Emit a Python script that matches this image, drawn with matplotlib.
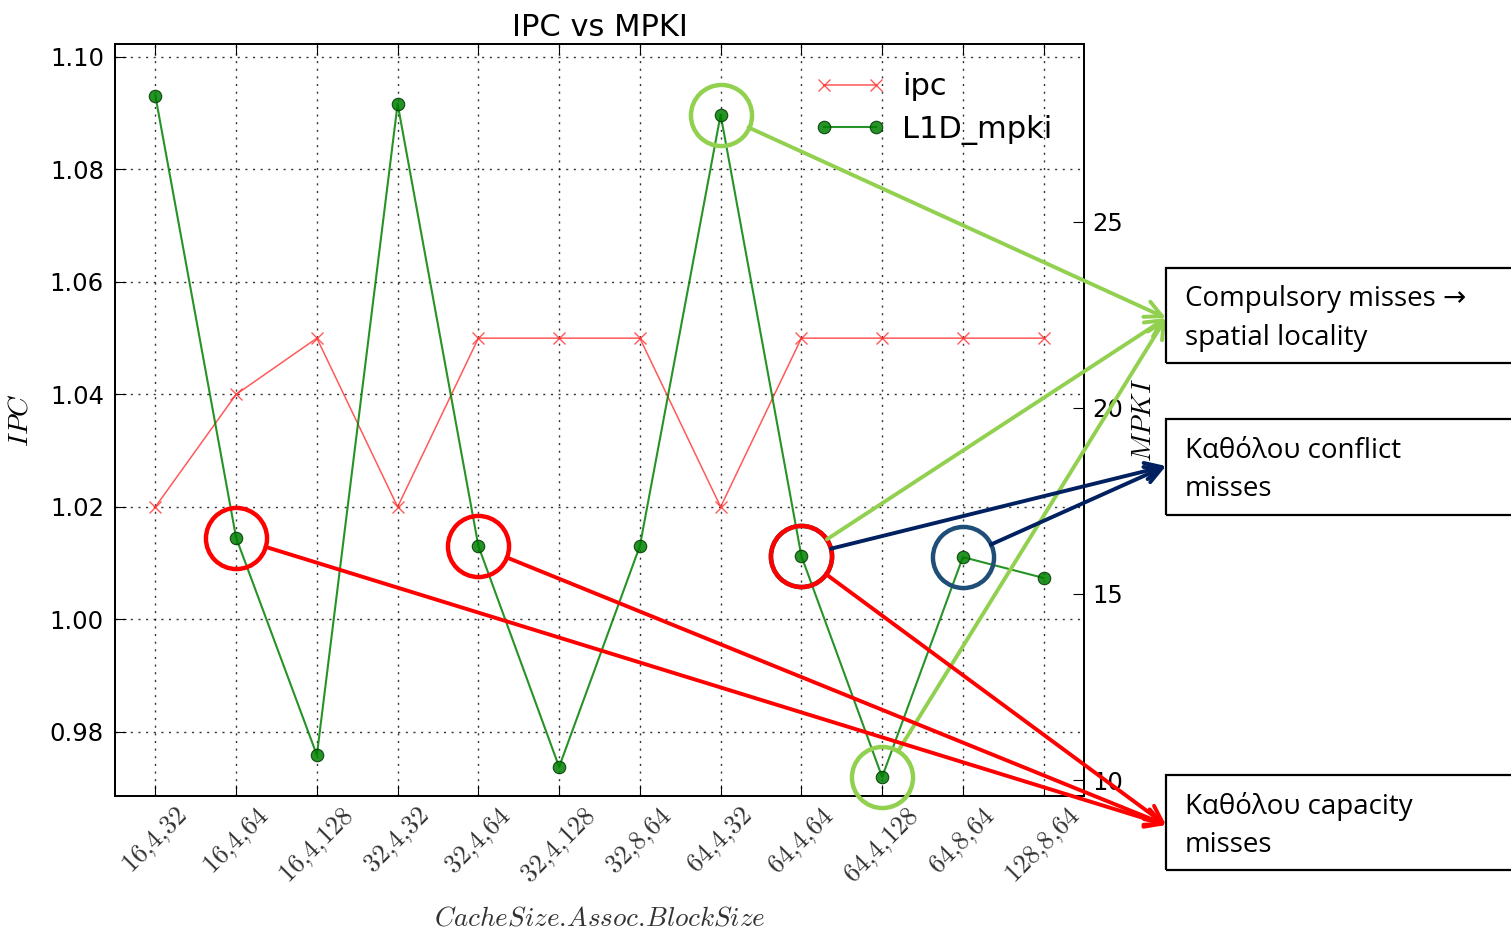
import matplotlib
matplotlib.use("Agg")
import matplotlib.pyplot as plt
from matplotlib.patches import Rectangle

plt.rcParams['mathtext.fontset'] = 'cm'
plt.rcParams['font.family'] = ['DejaVu Sans']

# ---- data ----
configs = ["16,4,32", "16,4,64", "16,4,128", "32,4,32", "32,4,64", "32,4,128",
           "32,8,64", "64,4,32", "64,4,64", "64,4,128", "64,8,64", "128,8,64"]
ipc = [1.02, 1.04, 1.05, 1.02, 1.05, 1.05, 1.05, 1.02, 1.05, 1.05, 1.05, 1.05]
l1d_mpki = [28.39, 16.51, 10.67, 28.17, 16.29, 10.35, 16.29, 27.88, 16.02, 10.08, 15.99, 15.43]

ipc_ticks = [0.98, 1.00, 1.02, 1.04, 1.06, 1.08, 1.10]
mpki_ticks = [10, 15, 20, 25]

# highlighted points by miss category
compulsory_pts = [7, 8, 9]
conflict_pts = [8, 10]
capacity_pts = [1, 4, 8]

note_compulsory = "Compulsory misses \u2192\nspatial locality"
note_conflict = "Καθόλου conflict\nmisses"
note_capacity = "Καθόλου capacity\nmisses"

C_GREEN = "#92d050"
C_NAVY = "#002060"
C_BLUE = "#1f4e79"
C_RED = "#ff0000"

W, H = 1511, 932
fig = plt.figure(figsize=(W / 100, H / 100), dpi=100)
fig.patch.set_facecolor("white")


def fp(x, y):
    """pixel position (from top-left) -> figure fraction"""
    return (x / W, 1 - y / H)


ax1 = fig.add_axes([115 / W, 1 - 796 / H, (1084 - 115) / W, (796 - 44) / H])
ax2 = ax1.twinx()

x = list(range(len(configs)))
l_ipc, = ax1.plot(x, ipc, color="#ff3030", marker="x", markersize=8, lw=1.1,
                  mew=1.0, alpha=0.8, label="ipc")
l_mpki, = ax2.plot(x, l1d_mpki, color="#008000", marker="o", markersize=9,
                   lw=1.5, mec="#003300", mew=0.8, alpha=0.85, label="L1D_mpki",
                   zorder=3)

ax1.set_xlim(-0.5, 11.5)
ax1.set_ylim(0.9686, 1.1023)
ax2.set_ylim(9.57, 29.78)

ax1.set_yticks(ipc_ticks)
ax1.set_yticklabels([f"{v:.2f}" for v in ipc_ticks], fontsize=17.5)
ax2.set_yticks(mpki_ticks)
ax2.set_yticklabels([str(v) for v in mpki_ticks], fontsize=17.5)
ax1.set_xticks(x)
ax1.set_xticklabels(["$" + c.replace(",", "{,}") + "$" for c in configs],
                    rotation=45, ha="center", va="top", fontsize=19, color="#333333")

ax1.tick_params(axis="both", direction="in", length=8, top=True, right=False, pad=8)
ax2.tick_params(axis="y", direction="in", length=8, pad=6)
ax1.tick_params(axis="x", pad=5)

ax1.grid(True, linestyle=(0, (1.5, 4)), color="black", lw=1.0, alpha=0.8)
for ax in (ax1, ax2):
    for s in ax.spines.values():
        s.set_linewidth(1.3)

ax1.set_title("IPC vs MPKI", fontsize=22, pad=6)
ax1.set_xlabel(r"$CacheSize.\!Assoc.\!BlockSize$", fontsize=19.5, color="#333333",
               labelpad=12)
ax1.set_ylabel(r"$IPC$", fontsize=20, labelpad=12)
ax2.set_ylabel(r"$MPKI$", fontsize=20, labelpad=4)

leg = ax2.legend([l_ipc, l_mpki], ["ipc", "L1D_mpki"], loc="upper left",
                 bbox_to_anchor=(0.694, 0.999), frameon=False, numpoints=2,
                 fontsize=22, handlelength=2.3, handletextpad=0.55,
                 labelspacing=0.45)

# ---- annotation boxes ----
boxes = [
    (268, 363, note_compulsory),
    (419, 515, note_conflict),
    (775, 870, note_capacity),
]
for top, bot, txt in boxes:
    x0, y0 = fp(1166, bot)
    x1, y1 = fp(1530, top)
    fig.patches.append(Rectangle((x0, y0), x1 - x0, y1 - y0, transform=fig.transFigure,
                                 fill=False, edgecolor="black", lw=1.6))
    tx, ty = fp(1185, (top + bot) / 2 + 3)
    fig.text(tx, ty, txt, ha="left", va="center", fontsize=20,
             family=["Open Sans", "DejaVu Sans"], linespacing=1.5)

# ---- circles and arrows ----
RING = 44


def ring(i, color):
    ax2.plot([i], [l1d_mpki[i]], marker="o", markersize=RING, mfc="none",
             mec=color, mew=3.2, zorder=5, clip_on=False)


def arrow(i, color, target):
    tx, ty = target
    ax2.annotate("", xy=(tx, H - ty), xycoords="figure pixels",
                 xytext=(i, l1d_mpki[i]), textcoords="data",
                 arrowprops=dict(arrowstyle="->", color=color, lw=2.8,
                                 shrinkA=22, shrinkB=0, mutation_scale=30),
                 zorder=6, annotation_clip=False)


for i in compulsory_pts:
    ring(i, C_GREEN)
    arrow(i, C_GREEN, (1166, 318))
for i in conflict_pts:
    ring(i, C_BLUE)
    arrow(i, C_NAVY, (1166, 466))
for i in capacity_pts:
    ring(i, C_RED)
    arrow(i, C_RED, (1166, 825))

fig.savefig("out.png", dpi=100, facecolor="white")
